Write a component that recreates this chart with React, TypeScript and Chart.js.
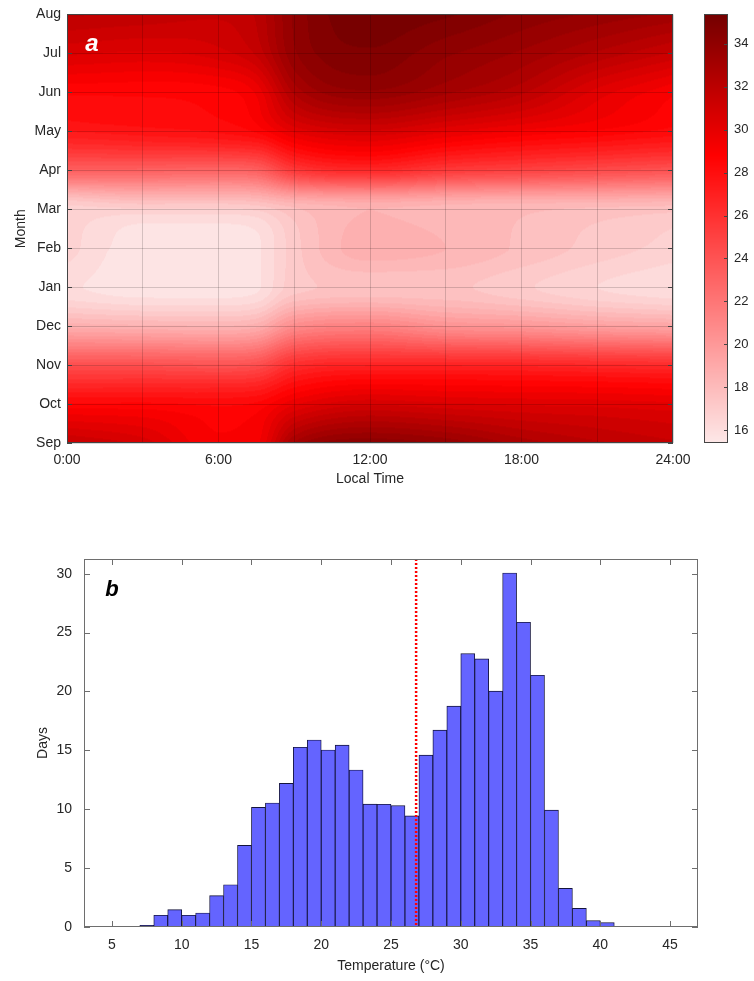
import React, { useEffect, useRef } from "react";
import { Chart, registerables } from "chart.js";
Chart.register(...registerables);

// ---------- Panel a data ----------
const MONTHS = ["Sep", "Oct", "Nov", "Dec", "Jan", "Feb", "Mar", "Apr", "May", "Jun", "Jul", "Aug"];
const HOURS = [0, 3, 6, 7.5, 9, 12, 15, 18, 21, 24];
const HOUR_TICKS = [0, 3, 6, 9, 12, 15, 18, 21, 24];
const HOUR_LABELS = ["0:00", "", "6:00", "", "12:00", "", "18:00", "", "24:00"];

const T_SEP = [31.5, 30.7, 29.0, 29.3, 33.0, 34.3, 33.8, 32.7, 32.0, 31.5];
const T_OCT = [28.5, 28.5, 28.3, 28.5, 29.8, 30.8, 30.5, 30.3, 30.2, 30.0];
const T_NOV = [24.2, 24.2, 24.0, 24.3, 26.2, 26.8, 26.8, 26.7, 26.5, 26.3];
const T_DEC = [18.7, 18.5, 18.4, 18.7, 20.7, 21.3, 20.4, 20.1, 19.6, 19.3];
const T_JAN = [16.0, 15.6, 15.6, 15.8, 17.2, 17.5, 17.5, 17.0, 16.4, 16.0];
const T_FEB = [16.6, 15.6, 15.6, 15.8, 17.2, 18.7, 18.4, 17.8, 17.2, 16.7];
const T_MAR = [16.7, 16.8, 16.8, 17.0, 17.8, 18.4, 18.2, 18.0, 17.8, 17.6];
const T_APR = [23.3, 23.2, 23.0, 23.3, 25.5, 26.5, 25.5, 25.0, 24.5, 24.0];
const T_MAY = [27.4, 27.7, 28.0, 28.5, 30.0, 30.8, 30.0, 29.3, 28.8, 28.2];
const T_JUN = [28.5, 28.5, 28.7, 29.5, 32.5, 33.8, 33.0, 32.0, 30.2, 29.0];
const T_JUL = [30.5, 30.3, 30.7, 31.5, 33.8, 34.8, 34.0, 33.3, 32.3, 31.3];
const T_AUG = [32.0, 31.8, 31.5, 32.0, 34.0, 35.3, 35.0, 34.3, 33.8, 33.3];
const TEMP_GRID = [T_SEP, T_OCT, T_NOV, T_DEC, T_JAN, T_FEB, T_MAR, T_APR, T_MAY, T_JUN, T_JUL, T_AUG];

const CB_MIN = 15.4;
const CB_MAX = 35.4;
const CB_TICKS = [16, 18, 20, 22, 24, 26, 28, 30, 32, 34];
const CONTOUR_STEP = 0.5;

// ---------- Panel b data ----------
const TEMP_BINS = [5.5, 6.5, 7.5, 8.5, 9.5, 10.5, 11.5, 12.5, 13.5, 14.5, 15.5, 16.5, 17.5, 18.5, 19.5, 20.5, 21.5, 22.5, 23.5, 24.5, 25.5, 26.5, 27.5, 28.5, 29.5, 30.5, 31.5, 32.5, 33.5, 34.5, 35.5, 36.5, 37.5, 38.5, 39.5, 40.5, 41.5, 42.5, 43.5, 44.5];
const DAYS = [0.05, 0, 0.15, 1.0, 1.47, 1.0, 1.19, 2.66, 3.59, 6.93, 10.16, 10.53, 12.2, 15.26, 15.88, 15.03, 15.45, 13.33, 10.44, 10.42, 10.31, 9.43, 14.6, 16.72, 18.76, 23.22, 22.77, 20.03, 30.06, 25.88, 21.38, 9.92, 3.28, 1.58, 0.54, 0.37, 0.06, 0.03, 0.03, 0.03];
const TEMP_TICKS = [5, 10, 15, 20, 25, 30, 35, 40, 45];
const DAYS_TICKS = [0, 5, 10, 15, 20, 25, 30];
const THRESHOLD_TEMP = 26.8;

// ---------- styles ----------
const FONT = '"Liberation Sans", Arial, Helvetica, sans-serif';
const TXT = "#262626";
const CMAP_STOPS = [15.4, 28.8, 35.4];
const CMAP_COLORS = [
  [253, 232, 232],
  [255, 0, 0],
  [115, 0, 0],
];

function cmap(v: number): number[] {
  if (v <= CMAP_STOPS[0]) return CMAP_COLORS[0];
  for (let i = 0; i < CMAP_STOPS.length - 1; i++) {
    if (v <= CMAP_STOPS[i + 1]) {
      const t = (v - CMAP_STOPS[i]) / (CMAP_STOPS[i + 1] - CMAP_STOPS[i]);
      const a = CMAP_COLORS[i], b = CMAP_COLORS[i + 1];
      return [a[0] + (b[0] - a[0]) * t, a[1] + (b[1] - a[1]) * t, a[2] + (b[2] - a[2]) * t];
    }
  }
  return CMAP_COLORS[CMAP_COLORS.length - 1];
}

function clamp(v: number, lo: number, hi: number) {
  return Math.max(lo, Math.min(hi, v));
}

// monotone (Fritsch-Carlson) cubic helpers for smooth contour rendering
function monoSlopes(xs: number[], ys: number[]): number[] {
  const n = xs.length;
  const d: number[] = [];
  for (let i = 0; i < n - 1; i++) d.push((ys[i + 1] - ys[i]) / (xs[i + 1] - xs[i]));
  const m: number[] = new Array(n);
  m[0] = d[0];
  m[n - 1] = d[n - 2];
  for (let i = 1; i < n - 1; i++) m[i] = d[i - 1] * d[i] <= 0 ? 0 : (d[i - 1] + d[i]) / 2;
  for (let i = 0; i < n - 1; i++) {
    if (d[i] === 0) {
      m[i] = 0;
      m[i + 1] = 0;
    } else {
      const a = m[i] / d[i], b = m[i + 1] / d[i];
      const s = a * a + b * b;
      if (s > 9) {
        const t = 3 / Math.sqrt(s);
        m[i] = t * a * d[i];
        m[i + 1] = t * b * d[i];
      }
    }
  }
  return m;
}

function hermite(xs: number[], ys: number[], ms: number[], x: number): number {
  const n = xs.length;
  let i = 0;
  while (i < n - 2 && x > xs[i + 1]) i++;
  const h = xs[i + 1] - xs[i];
  const t = clamp((x - xs[i]) / h, 0, 1);
  const t2 = t * t, t3 = t2 * t;
  return (2 * t3 - 3 * t2 + 1) * ys[i] + (t3 - 2 * t2 + t) * h * ms[i] + (-2 * t3 + 3 * t2) * ys[i + 1] + (t3 - t2) * h * ms[i + 1];
}

function quantize(v: number) {
  const k = Math.floor((v - CB_MIN) / CONTOUR_STEP);
  return CB_MIN + (k + 0.5) * CONTOUR_STEP;
}

const ROW_INDEX = MONTHS.map((_, i) => i);

const heatmapPlugin = {
  id: "heatmap",
  beforeDatasetsDraw(chart: any) {
    const { ctx, chartArea: a, scales } = chart;
    const x = scales.x, y = scales.y;
    const w = Math.round(a.right - a.left), h = Math.round(a.bottom - a.top);
    const rowSlopes = TEMP_GRID.map((row) => monoSlopes(HOURS, row));
    // per pixel column: values along months + slopes
    const colVals: number[][] = [];
    const colSlopes: number[][] = [];
    for (let px = 0; px < w; px++) {
      const hr = x.getValueForPixel(a.left + px + 0.5);
      const vals = TEMP_GRID.map((row, j) => hermite(HOURS, row, rowSlopes[j], hr));
      colVals.push(vals);
      colSlopes.push(monoSlopes(ROW_INDEX, vals));
    }
    const off = document.createElement("canvas");
    off.width = w;
    off.height = h;
    const octx = off.getContext("2d")!;
    const img = octx.createImageData(w, h);
    for (let py = 0; py < h; py++) {
      const m = y.getValueForPixel(a.top + py + 0.5);
      for (let px = 0; px < w; px++) {
        const v = hermite(ROW_INDEX, colVals[px], colSlopes[px], m);
        const c = cmap(quantize(v));
        const k = (py * w + px) * 4;
        img.data[k] = c[0];
        img.data[k + 1] = c[1];
        img.data[k + 2] = c[2];
        img.data[k + 3] = 255;
      }
    }
    octx.putImageData(img, 0, 0);
    ctx.drawImage(off, a.left, a.top);
  },
  afterDraw(chart: any) {
    const { ctx, chartArea: a, scales } = chart;
    ctx.save();
    ctx.strokeStyle = "#444";
    ctx.lineWidth = 1;
    ctx.beginPath();
    MONTHS.forEach((_, i) => {
      const py = Math.round(scales.y.getPixelForValue(i)) + 0.5;
      ctx.moveTo(a.left, py);
      ctx.lineTo(a.left + 5, py);
      ctx.moveTo(a.right, py);
      ctx.lineTo(a.right - 5, py);
    });
    ctx.stroke();
    ctx.strokeRect(Math.round(a.left) + 0.5, Math.round(a.top) + 0.5, Math.round(a.right - a.left) - 1, Math.round(a.bottom - a.top) - 1);
    ctx.fillStyle = "#ffffff";
    ctx.font = `italic bold 24px ${FONT}`;
    ctx.textAlign = "center";
    ctx.textBaseline = "middle";
    ctx.fillText("a", a.left + 25, a.top + 30);
    ctx.restore();
  },
};

const colorbarPlugin = {
  id: "colorbar",
  beforeDatasetsDraw(chart: any) {
    const { ctx, chartArea: a, scales } = chart;
    const y = scales.y;
    for (let py = Math.round(a.top); py < Math.round(a.bottom); py++) {
      const v = y.getValueForPixel(py + 0.5);
      const c = cmap(v);
      ctx.fillStyle = `rgb(${c[0]},${c[1]},${c[2]})`;
      ctx.fillRect(a.left, py, a.right - a.left, 1);
    }
  },
  afterDraw(chart: any) {
    const { ctx, chartArea: a, scales } = chart;
    ctx.save();
    ctx.strokeStyle = "#444";
    ctx.lineWidth = 1;
    ctx.beginPath();
    CB_TICKS.forEach((v) => {
      const py = Math.round(scales.y.getPixelForValue(v)) + 0.5;
      ctx.moveTo(a.right, py);
      ctx.lineTo(a.right - 4, py);
    });
    ctx.stroke();
    ctx.strokeRect(Math.round(a.left) + 0.5, Math.round(a.top) + 0.5, Math.round(a.right - a.left) - 1, Math.round(a.bottom - a.top) - 1);
    ctx.restore();
  },
};

const histPlugin = {
  id: "histdeco",
  afterDatasetsDraw(chart: any) {
    const { ctx, chartArea: a, scales } = chart;
    ctx.save();
    const px = scales.x.getPixelForValue(THRESHOLD_TEMP);
    ctx.strokeStyle = "#ff0000";
    ctx.lineWidth = 2.5;
    ctx.setLineDash([2, 2]);
    ctx.beginPath();
    ctx.moveTo(px, a.top);
    ctx.lineTo(px, a.bottom);
    ctx.stroke();
    ctx.restore();
  },
  afterDraw(chart: any) {
    const { ctx, chartArea: a, scales } = chart;
    ctx.save();
    ctx.strokeStyle = "#6e6e6e";
    ctx.lineWidth = 1;
    ctx.beginPath();
    TEMP_TICKS.forEach((v) => {
      const px = Math.round(scales.x.getPixelForValue(v)) + 0.5;
      ctx.moveTo(px, a.bottom);
      ctx.lineTo(px, a.bottom - 6);
      ctx.moveTo(px, a.top);
      ctx.lineTo(px, a.top + 6);
    });
    DAYS_TICKS.forEach((v) => {
      const py = Math.round(scales.y.getPixelForValue(v)) + 0.5;
      ctx.moveTo(a.left, py);
      ctx.lineTo(a.left + 6, py);
      ctx.moveTo(a.right, py);
      ctx.lineTo(a.right - 6, py);
    });
    ctx.stroke();
    ctx.strokeRect(Math.round(a.left) + 0.5, Math.round(a.top) + 0.5, Math.round(a.right - a.left) - 1, Math.round(a.bottom - a.top) - 1);
    ctx.fillStyle = "#000";
    ctx.font = `italic bold 22px ${FONT}`;
    ctx.textAlign = "center";
    ctx.textBaseline = "middle";
    ctx.fillText("b", scales.x.getPixelForValue(5), a.top + 31);
    ctx.restore();
  },
};

export default function App() {
  const heatRef = useRef<HTMLCanvasElement>(null);
  const cbRef = useRef<HTMLCanvasElement>(null);
  const histRef = useRef<HTMLCanvasElement>(null);

  useEffect(() => {
    const tickFont = { family: FONT, size: 14 };
    const heat = new Chart(heatRef.current!, {
      type: "scatter",
      data: { datasets: [{ data: [], pointRadius: 0 }] },
      options: {
        animation: false,
        responsive: false,
        events: [],
        layout: { padding: { top: 13, right: 27, left: 0, bottom: 0 } },
        plugins: { legend: { display: false }, tooltip: { enabled: false } },
        scales: {
          x: {
            type: "linear",
            min: 0,
            max: 24,
            afterBuildTicks: (s: any) => {
              s.ticks = HOUR_TICKS.map((v) => ({ value: v }));
            },
            afterFit: (s: any) => {
              s.height = 47;
            },
            ticks: {
              autoSkip: false,
              maxRotation: 0,
              padding: 9,
              color: TXT,
              font: tickFont,
              callback: (_v: any, i: number) => HOUR_LABELS[i],
            },
            grid: { color: "rgba(0,0,0,0.16)", drawTicks: false, z: 1 },
            border: { display: false },
            title: { display: true, text: "Local Time", color: TXT, font: { family: FONT, size: 14 }, padding: { top: 0, bottom: 2 } },
          },
          y: {
            type: "linear",
            min: 0,
            max: 11,
            afterBuildTicks: (s: any) => {
              s.ticks = MONTHS.map((_, i) => ({ value: i }));
            },
            afterFit: (s: any) => {
              s.width = 67;
            },
            ticks: {
              autoSkip: false,
              padding: 6,
              color: TXT,
              font: tickFont,
              callback: (_v: any, i: number) => MONTHS[i],
            },
            grid: { color: "rgba(0,0,0,0.16)", drawTicks: false, z: 1 },
            border: { display: false },
            title: { display: true, text: "Month", color: TXT, font: { family: FONT, size: 14 }, padding: { top: 13, bottom: 0 } },
          },
        },
      },
      plugins: [heatmapPlugin],
    } as any);

    const cb = new Chart(cbRef.current!, {
      type: "scatter",
      data: { datasets: [{ data: [], pointRadius: 0 }] },
      options: {
        animation: false,
        responsive: false,
        events: [],
        layout: { padding: { top: 13, right: 0, left: 14, bottom: 47 } },
        plugins: { legend: { display: false }, tooltip: { enabled: false } },
        scales: {
          x: { display: false, min: 0, max: 1 },
          y: {
            type: "linear",
            position: "right",
            min: CB_MIN,
            max: CB_MAX,
            afterBuildTicks: (s: any) => {
              s.ticks = CB_TICKS.map((v) => ({ value: v }));
            },
            afterFit: (s: any) => {
              s.width = 26;
            },
            ticks: { padding: 6, color: TXT, font: { family: FONT, size: 13 } },
            grid: { display: false, drawTicks: false },
            border: { display: false },
          },
        },
      },
      plugins: [colorbarPlugin],
    } as any);

    const hist = new Chart(histRef.current!, {
      type: "bar",
      data: {
        datasets: [
          {
            data: TEMP_BINS.map((t, i) => ({ x: t, y: DAYS[i] })),
            backgroundColor: "#6464ff",
            borderColor: "#14143c",
            borderWidth: 0.9,
            barPercentage: 1,
            categoryPercentage: 1,
          },
        ],
      },
      options: {
        animation: false,
        responsive: false,
        events: [],
        layout: { padding: { top: 69, right: 56, left: 0, bottom: 0 } },
        plugins: { legend: { display: false }, tooltip: { enabled: false } },
        scales: {
          x: {
            type: "linear",
            min: 3,
            max: 47,
            offset: false,
            afterBuildTicks: (s: any) => {
              s.ticks = TEMP_TICKS.map((v) => ({ value: v }));
            },
            afterFit: (s: any) => {
              s.height = 54;
            },
            ticks: { autoSkip: false, maxRotation: 0, padding: 10, color: TXT, font: tickFont },
            grid: { display: false, drawTicks: false },
            border: { display: false },
            title: { display: true, text: "Temperature (°C)", color: TXT, font: { family: FONT, size: 14 }, padding: { top: 0, bottom: 6 } },
          },
          y: {
            type: "linear",
            min: 0,
            max: 31.25,
            afterBuildTicks: (s: any) => {
              s.ticks = DAYS_TICKS.map((v) => ({ value: v }));
            },
            afterFit: (s: any) => {
              s.width = 84;
            },
            ticks: { autoSkip: false, padding: 12, color: TXT, font: tickFont },
            grid: { display: false, drawTicks: false },
            border: { display: false },
            title: { display: true, text: "Days", color: TXT, font: { family: FONT, size: 14 }, padding: { top: 35, bottom: 0 } },
          },
        },
      },
      plugins: [histPlugin],
    } as any);

    return () => {
      heat.destroy();
      cb.destroy();
      hist.destroy();
    };
  }, []);

  return (
    <div style={{ position: "absolute", left: 0, top: 0, width: 754, height: 981, background: "#fff" }}>
      <canvas ref={heatRef} width={700} height={490} style={{ position: "absolute", left: 0, top: 0 }} />
      <canvas ref={cbRef} width={64} height={490} style={{ position: "absolute", left: 690, top: 0 }} />
      <canvas ref={histRef} width={754} height={491} style={{ position: "absolute", left: 0, top: 490 }} />
    </div>
  );
}
